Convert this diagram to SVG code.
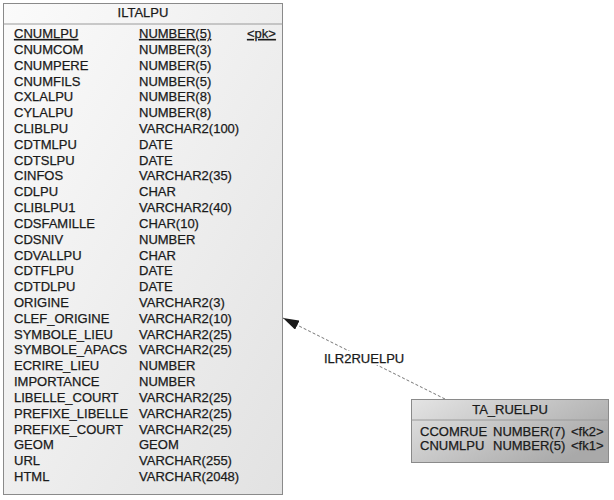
<svg xmlns="http://www.w3.org/2000/svg" width="614" height="500" viewBox="0 0 614 500">
<style>
text{font-family:"Liberation Sans",Arial,sans-serif;font-size:13px;fill:#1a1a1a;stroke:#1a1a1a;stroke-width:0.25}
.ttl{text-anchor:middle}
.u{text-decoration:underline}
.box{stroke:#8a8a8a;stroke-width:1}
.sep{stroke:#9a9a9a;stroke-width:1}
.conn{stroke:#777;stroke-width:1;stroke-dasharray:3 2;fill:none}
</style>
<defs>
<linearGradient id="g1" x1="0" y1="0" x2="1" y2="1">
<stop offset="0" stop-color="#fbfbfb"/>
<stop offset="1" stop-color="#e2e2e2"/>
</linearGradient>
<linearGradient id="g2" x1="0" y1="0" x2="1" y2="0.6">
<stop offset="0" stop-color="#e4e4e4"/>
<stop offset="1" stop-color="#a9a9a9"/>
</linearGradient>
<marker id="arr" viewBox="0 0 16 10" refX="16" refY="5" markerWidth="16" markerHeight="10" markerUnits="userSpaceOnUse" orient="auto">
<path d="M0,0 L16,5 L0,10 Z" fill="#1a1a1a"/>
</marker>
</defs>
<rect width="614" height="500" fill="#ffffff"/>

<g id="connectors">
<line class="conn" x1="445" y1="399" x2="283" y2="318" marker-end="url(#arr)"/>
<rect x="322" y="351" width="85" height="14" fill="#ffffff"/>
<text x="324" y="363">ILR2RUELPU</text>
</g>

<g id="ILTALPU">
<rect class="box" x="3.5" y="3.5" width="279" height="491" fill="url(#g1)"/>
<line class="sep" x1="3.5" y1="24" x2="282.5" y2="24"/>
<text class="ttl" x="143" y="17">ILTALPU</text>
<text x="14" y="38" class="u">CNUMLPU</text><text x="139" y="38" class="u">NUMBER(5)</text><text x="247" y="38" class="u">&lt;pk&gt;</text>
<text x="14" y="53.8">CNUMCOM</text><text x="139" y="53.8">NUMBER(3)</text>
<text x="14" y="69.6">CNUMPERE</text><text x="139" y="69.6">NUMBER(5)</text>
<text x="14" y="85.5">CNUMFILS</text><text x="139" y="85.5">NUMBER(5)</text>
<text x="14" y="101.3">CXLALPU</text><text x="139" y="101.3">NUMBER(8)</text>
<text x="14" y="117.1">CYLALPU</text><text x="139" y="117.1">NUMBER(8)</text>
<text x="14" y="132.9">CLIBLPU</text><text x="139" y="132.9">VARCHAR2(100)</text>
<text x="14" y="148.7">CDTMLPU</text><text x="139" y="148.7">DATE</text>
<text x="14" y="164.6">CDTSLPU</text><text x="139" y="164.6">DATE</text>
<text x="14" y="180.4">CINFOS</text><text x="139" y="180.4">VARCHAR2(35)</text>
<text x="14" y="196.2">CDLPU</text><text x="139" y="196.2">CHAR</text>
<text x="14" y="212">CLIBLPU1</text><text x="139" y="212">VARCHAR2(40)</text>
<text x="14" y="227.8">CDSFAMILLE</text><text x="139" y="227.8">CHAR(10)</text>
<text x="14" y="243.7">CDSNIV</text><text x="139" y="243.7">NUMBER</text>
<text x="14" y="259.5">CDVALLPU</text><text x="139" y="259.5">CHAR</text>
<text x="14" y="275.3">CDTFLPU</text><text x="139" y="275.3">DATE</text>
<text x="14" y="291.1">CDTDLPU</text><text x="139" y="291.1">DATE</text>
<text x="14" y="306.9">ORIGINE</text><text x="139" y="306.9">VARCHAR2(3)</text>
<text x="14" y="322.8">CLEF_ORIGINE</text><text x="139" y="322.8">VARCHAR2(10)</text>
<text x="14" y="338.6">SYMBOLE_LIEU</text><text x="139" y="338.6">VARCHAR2(25)</text>
<text x="14" y="354.4">SYMBOLE_APACS</text><text x="139" y="354.4">VARCHAR2(25)</text>
<text x="14" y="370.2">ECRIRE_LIEU</text><text x="139" y="370.2">NUMBER</text>
<text x="14" y="386">IMPORTANCE</text><text x="139" y="386">NUMBER</text>
<text x="14" y="401.9">LIBELLE_COURT</text><text x="139" y="401.9">VARCHAR2(25)</text>
<text x="14" y="417.7">PREFIXE_LIBELLE</text><text x="139" y="417.7">VARCHAR2(25)</text>
<text x="14" y="433.5">PREFIXE_COURT</text><text x="139" y="433.5">VARCHAR2(25)</text>
<text x="14" y="449.3">GEOM</text><text x="139" y="449.3">GEOM</text>
<text x="14" y="465.1">URL</text><text x="139" y="465.1">VARCHAR(255)</text>
<text x="14" y="481">HTML</text><text x="139" y="481">VARCHAR(2048)</text>
</g>

<g id="TA_RUELPU">
<rect class="box" x="411.5" y="399.5" width="197" height="63" fill="url(#g2)"/>
<line class="sep" x1="411.5" y1="420" x2="608.5" y2="420"/>
<text class="ttl" x="510" y="414">TA_RUELPU</text>
<text x="420" y="436">CCOMRUE</text><text x="493" y="436">NUMBER(7)</text><text x="571" y="436">&lt;fk2&gt;</text>
<text x="420" y="450">CNUMLPU</text><text x="493" y="450">NUMBER(5)</text><text x="571" y="450">&lt;fk1&gt;</text>
</g>
</svg>
